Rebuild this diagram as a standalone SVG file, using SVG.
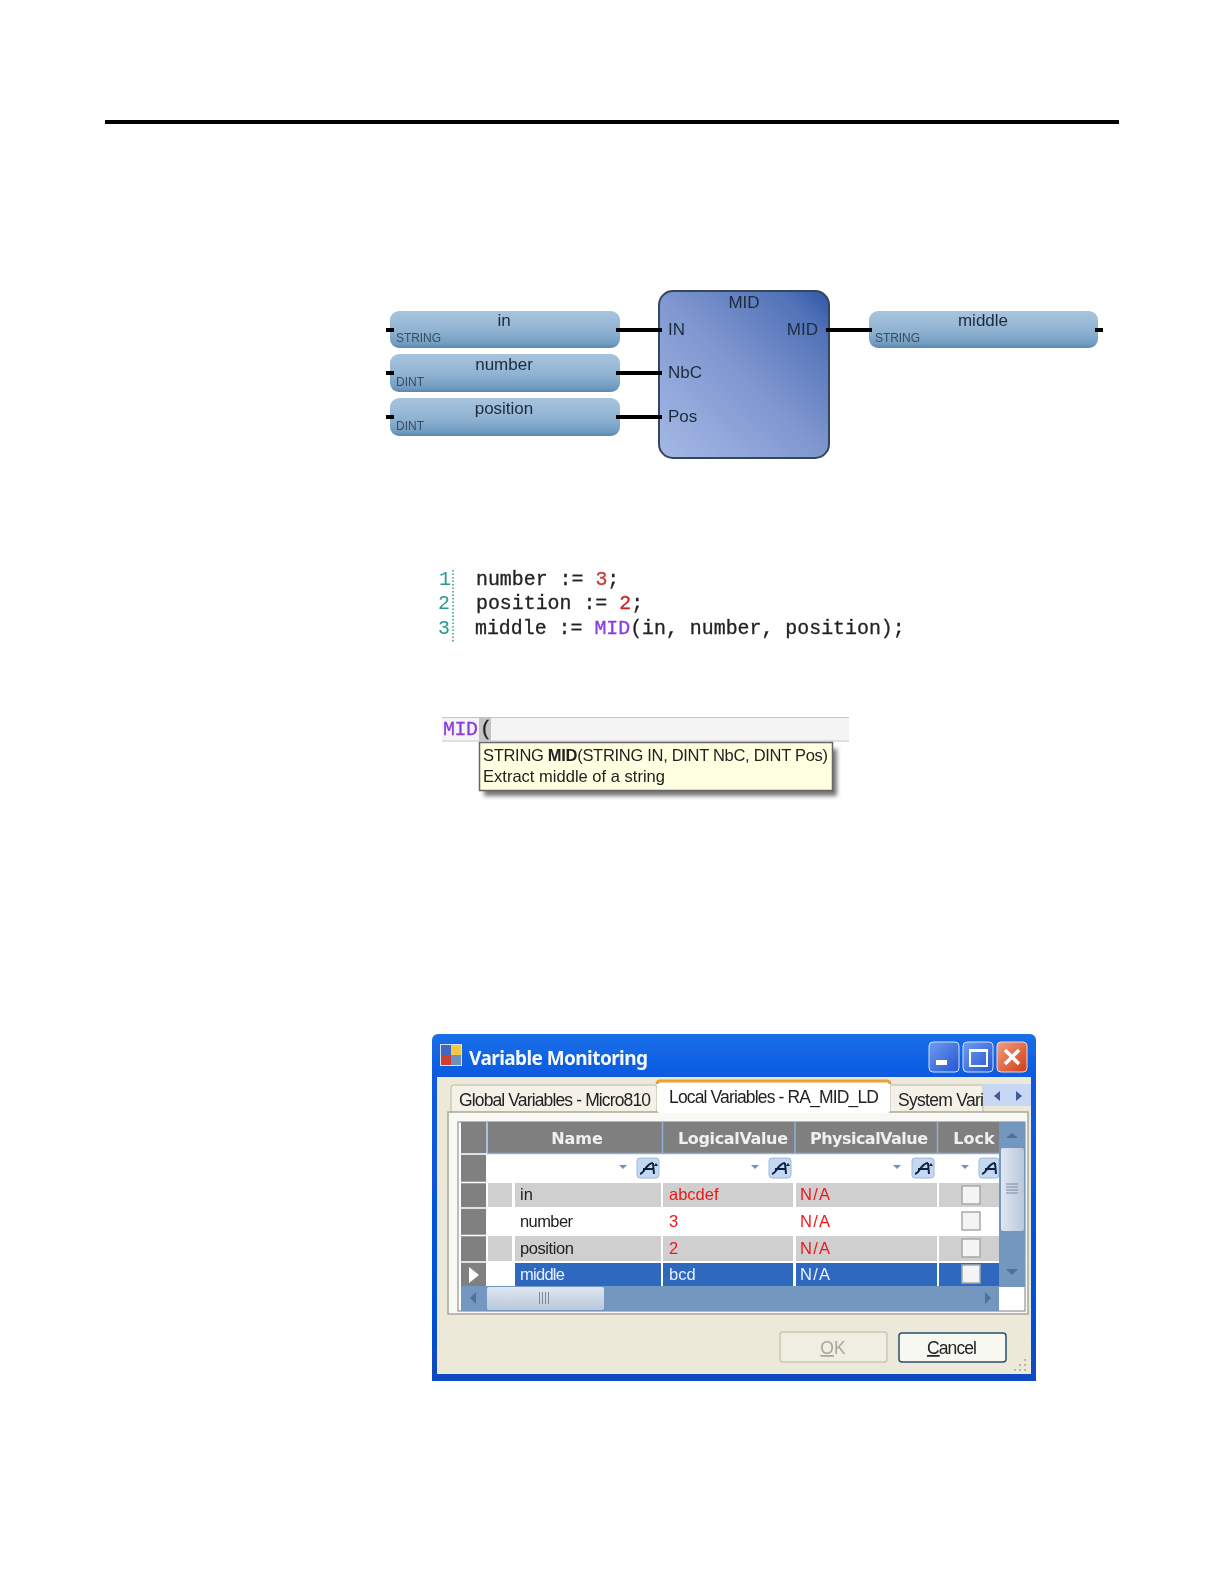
<svg xmlns="http://www.w3.org/2000/svg" width="1224" height="1584" viewBox="0 0 1224 1584">
<defs>
<linearGradient id="pill" x1="0" y1="0" x2="0" y2="1"><stop offset="0" stop-color="#a9c4de"/><stop offset=".55" stop-color="#8fb2d2"/><stop offset=".9" stop-color="#6f9bc0"/><stop offset="1" stop-color="#5d86ab"/></linearGradient>
<linearGradient id="block" x1="0" y1="1" x2="1" y2="0"><stop offset="0" stop-color="#a6b9e6"/><stop offset=".5" stop-color="#7f97d0"/><stop offset=".85" stop-color="#5373b8"/><stop offset="1" stop-color="#2f56a8"/></linearGradient>
<linearGradient id="title" x1="0" y1="0" x2="0" y2="1"><stop offset="0" stop-color="#1a6fe8"/><stop offset=".12" stop-color="#0a5ae0"/><stop offset=".8" stop-color="#0350d8"/><stop offset="1" stop-color="#0a48c0"/></linearGradient>
<linearGradient id="btnB" x1="0" y1="0" x2="1" y2="1"><stop offset="0" stop-color="#6f9cf0"/><stop offset="1" stop-color="#2555d0"/></linearGradient>
<linearGradient id="btnR" x1="0" y1="0" x2="1" y2="1"><stop offset="0" stop-color="#f0a080"/><stop offset="1" stop-color="#d03c18"/></linearGradient>
<linearGradient id="thumbH" x1="0" y1="0" x2="0" y2="1"><stop offset="0" stop-color="#dfe6f0"/><stop offset="1" stop-color="#b9c8dc"/></linearGradient>
<linearGradient id="thumbV" x1="0" y1="0" x2="1" y2="0"><stop offset="0" stop-color="#dfe6f0"/><stop offset="1" stop-color="#b9c8dc"/></linearGradient>
<filter id="soft" x="-5%" y="-5%" width="110%" height="110%"><feGaussianBlur stdDeviation="0.45"/></filter>
<filter id="shadow" x="-5%" y="-20%" width="110%" height="140%"><feGaussianBlur stdDeviation="2"/></filter>
<g id="filterIcon"><rect x="0" y="0" width="22" height="20" rx="3" fill="#c4d8f4" stroke="#9db8dc"/><path d="M3 16 C8 15 9 5 16 5 M6 11 H17 M16 5 L17 16" fill="none" stroke="#102040" stroke-width="2"/><path d="M19 5 l2 3 h-4z" fill="#102040"/></g>
<path id="dropArrow" d="M0 0 h8 l-4 4z" fill="#6f93bd"/>
<g id="check"><rect x="0" y="0" width="18" height="18" fill="#f4f4f4" stroke="#a8a8a8" stroke-width="1.5"/></g>
</defs>
<style>
.s{font-family:"Liberation Sans",Arial,sans-serif;fill:#222}
.t{font-family:"Noto Sans","DejaVu Sans",sans-serif}
.m{font-family:"Liberation Mono","Courier New",monospace;font-size:19.9px;fill:#222;stroke:#222;stroke-width:.3}
.ty{font-size:12px;fill:#3c4c5c}
.v{font-size:17px;text-anchor:middle;fill:#1d2b3c}
.p{font-size:17px;fill:#1d2b3c}
.pill{fill:url(#pill)}
.wire{stroke:#000;stroke-width:4;fill:none}
.cell{font-size:16.5px;fill:#222}
.red{font-size:16.5px;fill:#f01818}
.wh{font-size:16.5px;fill:#e8f0ff}
.hd{font-family:"DejaVu Sans",sans-serif;font-weight:bold;font-size:16px;fill:#f0f0f0}
.tab{font-size:17.5px;fill:#222}
.mono-n{fill:#2a9a90;stroke:none}
</style>
<rect width="1224" height="1584" fill="#fff"/>
<rect x="105" y="120" width="1014" height="4" fill="#000"/>

<g id="fbd" filter="url(#soft)">
<g id="node-in"><rect class="pill" x="390" y="311" width="230" height="37" rx="9"/><text class="s v" x="504" y="326">in</text><text class="s ty" x="396" y="342" textLength="45">STRING</text></g>
<g id="node-number"><rect class="pill" x="390" y="354" width="230" height="38" rx="9"/><text class="s v" x="504" y="370">number</text><text class="s ty" x="396" y="386" textLength="28">DINT</text></g>
<g id="node-position"><rect class="pill" x="390" y="398" width="230" height="38" rx="9"/><text class="s v" x="504" y="414">position</text><text class="s ty" x="396" y="430" textLength="28">DINT</text></g>
<g id="node-middle"><rect class="pill" x="869" y="311" width="229" height="37" rx="9"/><text class="s v" x="983" y="326">middle</text><text class="s ty" x="875" y="342" textLength="45">STRING</text></g>
<g id="node-mid"><rect x="659" y="291" width="170" height="167" rx="14" fill="url(#block)" stroke="#34465c" stroke-width="2"/>
<text class="s v" x="744" y="308">MID</text><text class="s p" x="668" y="335">IN</text><text class="s p" x="668" y="378">NbC</text><text class="s p" x="668" y="422">Pos</text><text class="s p" x="818" y="335" text-anchor="end">MID</text></g>
<g id="connectors">
<path class="wire" d="M616 330H662M616 373H662M616 417H662M826 330H872M386 330H394M386 373H394M386 417H394M1095 330H1103"/>
</g>
</g>

<g id="code" filter="url(#soft)">
<path d="M453 570V642" stroke="#2a9a90" stroke-width="1.5" stroke-dasharray="1.5 2" fill="none"/>
<text class="m mono-n" x="439" y="585">1</text><text class="m mono-n" x="438" y="609">2</text><text class="m mono-n" x="438" y="634">3</text>
<text class="m" x="476" y="585">number := <tspan fill="#c83c3c" stroke="#c83c3c">3</tspan>;</text>
<text class="m" x="476" y="609">position := <tspan fill="#c82828" stroke="#c82828">2</tspan>;</text>
<text class="m" x="475" y="634">middle := <tspan fill="#8a3ce0" stroke="#8a3ce0">MID</tspan>(in, number, position);</text>
</g>

<g id="tooltip" filter="url(#soft)">
<rect x="442" y="717" width="407" height="24" fill="#f4f4f4"/>
<path d="M442 717.5H849M442 741H849" stroke="#c4c4c4" stroke-width="1.2"/>
<rect x="479" y="717" width="12" height="24" fill="#c4c4c4"/>
<text class="m" x="443" y="735" textLength="35" style="fill:#8a3ce0;stroke:#8a3ce0">MID</text><text class="m" x="480" y="735">(</text>
<rect x="484" y="749" width="353" height="47" fill="#777" filter="url(#shadow)"/>
<rect x="479.500" y="742.500" width="353" height="48" fill="#ffffe1" stroke="#666" stroke-width="1.5"/>
<text class="s" x="483" y="761" font-size="16.500" textLength="345">STRING <tspan font-weight="bold">MID</tspan>(STRING IN, DINT NbC, DINT Pos)</text>
<text class="s" x="483" y="782" font-size="16.500" textLength="182">Extract middle of a string</text>
</g>

<g id="dialog" filter="url(#soft)">
<path d="M432 1040a6 6 0 0 1 6-6H1030a6 6 0 0 1 6 6V1381H432z" fill="url(#title)"/>
<rect x="437" y="1077" width="594" height="297" fill="#ece9d8"/>
<rect x="440" y="1044" width="22" height="22" fill="#d8e4f4"/><rect x="441" y="1045" width="10" height="10" fill="#4068c0"/><rect x="451" y="1045" width="10" height="10" fill="#f4c840"/><rect x="441" y="1055" width="10" height="10" fill="#d04030"/><rect x="451" y="1055" width="10" height="10" fill="#7090c0"/>
<text class="t" x="469" y="1065" font-size="19" font-weight="bold" fill="#f4f8ff" textLength="179">Variable Monitoring</text>
<rect x="929" y="1042" width="30" height="30" rx="4" fill="url(#btnB)" stroke="#d0e0ff"/><rect x="936" y="1060" width="11" height="5" fill="#fff"/>
<rect x="963" y="1042" width="30" height="30" rx="4" fill="url(#btnB)" stroke="#d0e0ff"/><rect x="970" y="1050" width="17" height="16" fill="none" stroke="#fff" stroke-width="2"/><rect x="970" y="1049" width="17" height="3" fill="#fff"/>
<rect x="997" y="1042" width="30" height="30" rx="4" fill="url(#btnR)" stroke="#f4d8d0"/><path d="M1005 1050L1019 1064M1019 1050L1005 1064" stroke="#fff" stroke-width="3.500"/>

<rect x="451" y="1085" width="206" height="28" rx="3" fill="#f4f2e8" stroke="#b8b8a8"/>
<rect x="890" y="1085" width="93" height="28" fill="#f4f2e8" stroke="#b8b8a8"/>
<rect x="448" y="1112" width="580" height="202" fill="#f8f8f4" stroke="#a8a898" stroke-width="1.500"/>
<rect x="657" y="1081" width="233" height="32" rx="3" fill="#fff"/>
<path d="M657 1084a3 3 0 0 1 3-3H887a3 3 0 0 1 3 3" fill="none" stroke="#eaa030" stroke-width="3"/>
<text class="s tab" x="459" y="1106" textLength="192">Global Variables - Micro810</text>
<text class="s tab" x="669" y="1103" textLength="210">Local Variables - RA_MID_LD</text>
<text class="s tab" x="898" y="1106" textLength="86">System Vari</text>
<rect x="983" y="1084" width="48" height="22" fill="#c8d8f4"/>
<path d="M1000 1091l-6 5 6 5zM1016 1091l6 5-6 5z" fill="#3f5f90"/>

<rect x="458" y="1122" width="567" height="189" fill="#fff" stroke="#808078" stroke-width="1"/>
<rect x="461" y="1122" width="25" height="164" fill="#808080"/>
<path d="M461 1154H486M461 1182.500H486M461 1208H486M461 1235.500H486M461 1262H486" stroke="#fff" stroke-width="1.500"/>
<path d="M469 1267l10 8-10 8z" fill="#fff"/>
<rect x="488" y="1122" width="511" height="31" fill="#7f7f7f"/>
<path d="M487 1122V1153M662.500 1122V1153M795 1122V1153M937.500 1122V1153M487 1153.500H999" stroke="#8fb0d8" stroke-width="1.500"/>
<text class="hd" x="577" y="1144" text-anchor="middle">Name</text>
<text class="hd" x="733" y="1144" text-anchor="middle" textLength="110">LogicalValue</text>
<text class="hd" x="869" y="1144" text-anchor="middle" textLength="118">PhysicalValue</text>
<text class="hd" x="974" y="1144" text-anchor="middle">Lock</text>

<use href="#dropArrow" x="619" y="1165"/><use href="#filterIcon" x="637" y="1158"/>
<use href="#dropArrow" x="751" y="1165"/><use href="#filterIcon" x="769" y="1158"/>
<use href="#dropArrow" x="893" y="1165"/><use href="#filterIcon" x="912" y="1158"/>
<use href="#dropArrow" x="961" y="1165"/><rect x="979" y="1158" width="20" height="20" rx="3" fill="#c4d8f4" stroke="#9db8dc"/><path d="M982 1174 C987 1173 988 1163 995 1163 M985 1169 H996 M995 1163 L996 1174" fill="none" stroke="#102040" stroke-width="2"/>

<g fill="#cfcfcf">
<rect x="488" y="1183" width="24" height="24"/><rect x="515" y="1183" width="146" height="24"/><rect x="663" y="1183" width="130" height="24"/><rect x="796" y="1183" width="141" height="24"/><rect x="939" y="1183" width="60" height="24"/>
<rect x="488" y="1236" width="24" height="25"/><rect x="515" y="1236" width="146" height="25"/><rect x="663" y="1236" width="130" height="25"/><rect x="796" y="1236" width="141" height="25"/><rect x="939" y="1236" width="60" height="25"/>
</g>
<g fill="#2f68bf">
<rect x="515" y="1263" width="146" height="24"/><rect x="663" y="1263" width="130" height="24"/><rect x="796" y="1263" width="141" height="24"/><rect x="939" y="1263" width="60" height="24"/>
</g>
<text class="s cell" x="520" y="1200">in</text><text class="s cell" x="520" y="1227" textLength="53">number</text><text class="s cell" x="520" y="1254" textLength="54">position</text><text class="s wh" x="520" y="1280" textLength="45">middle</text>
<text class="s red" x="669" y="1200">abcdef</text><text class="s red" x="669" y="1227">3</text><text class="s red" x="669" y="1254">2</text><text class="s wh" x="669" y="1280">bcd</text>
<text class="s red" x="800" y="1200" textLength="30">N/A</text><text class="s red" x="800" y="1227" textLength="30">N/A</text><text class="s red" x="800" y="1254" textLength="30">N/A</text><text class="s wh" x="800" y="1280" textLength="30">N/A</text>
<use href="#check" x="962" y="1186"/><use href="#check" x="962" y="1212"/><use href="#check" x="962" y="1239"/><use href="#check" x="962" y="1265"/>

<rect x="461" y="1286" width="538" height="25" fill="#7397bf"/>
<rect x="487" y="1287" width="117" height="23" rx="2" fill="url(#thumbH)"/>
<path d="M539.500 1292v12M542.500 1292v12M545.500 1292v12M548.500 1292v12" stroke="#7a8aa0" stroke-width="1"/>
<path d="M476 1292l-6 6 6 6z" fill="#4f6f98"/><path d="M985 1292l6 6-6 6z" fill="#4f6f98"/>
<rect x="999" y="1122" width="26" height="165" fill="#7397bf"/>
<rect x="1001" y="1148" width="23" height="83" rx="2" fill="url(#thumbV)"/>
<path d="M1006 1184h12M1006 1187h12M1006 1190h12M1006 1193h12" stroke="#7a8aa0" stroke-width="1"/>
<path d="M1006 1138l6-5 6 5z" fill="#4f6f98"/><path d="M1006 1269l6 6 6-6z" fill="#4f6f98"/>

<rect x="780" y="1332" width="107" height="30" rx="3" fill="#f0eee2" stroke="#c9c7b6" stroke-width="1.500"/>
<text class="s" x="833" y="1354" font-size="17.500" text-anchor="middle" style="fill:#a8a69a"><tspan text-decoration="underline">O</tspan>K</text>
<rect x="899" y="1333" width="107" height="29" rx="3" fill="#f8f8f2" stroke="#2a4f70" stroke-width="1.500"/>
<text class="s" x="952" y="1354" font-size="17.500" text-anchor="middle" textLength="50"><tspan text-decoration="underline">C</tspan>ancel</text>
<path d="M1024 1360h2M1019 1365h2M1024 1365h2M1014 1370h2M1019 1370h2M1024 1370h2" stroke="#b8b6a4" stroke-width="2"/>
</g>
</svg>
